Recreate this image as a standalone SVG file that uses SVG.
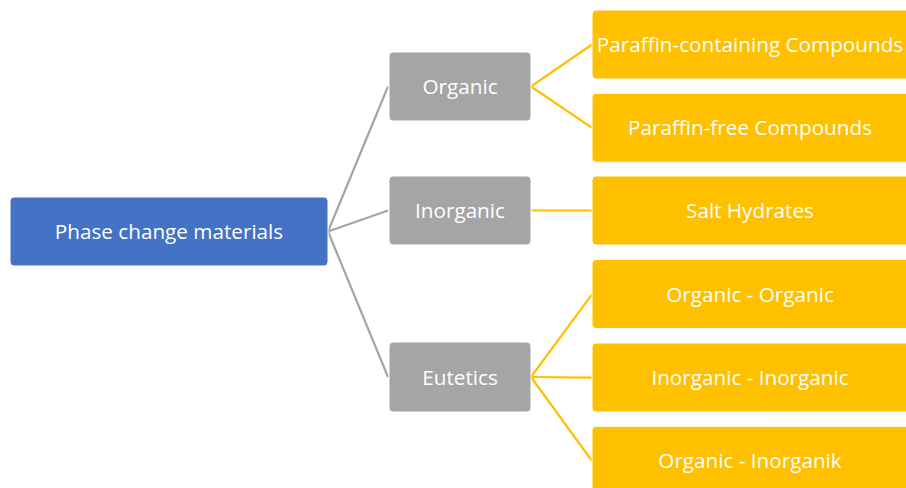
<svg xmlns="http://www.w3.org/2000/svg" width="906" height="488" viewBox="0 0 906 488">
<style>
.n rect{stroke:#ffffff;stroke-width:1}
.root rect{fill:#4472C4}
.mid rect{fill:#A5A5A5}
.leaf rect{fill:#FFC000}
text{font-family:"Open Sans","Liberation Sans",sans-serif;font-size:20.7px;fill:#ffffff;text-anchor:middle;dominant-baseline:central}
.cg line{stroke:#A5A5A5;stroke-width:2.2;fill:none}
.cy line{stroke:#FFC000;stroke-width:2.2;fill:none}
</style>
<rect width="906" height="488" fill="#ffffff"/>
<g id="connectors">
<g class="cg">
<line x1="328" y1="231.5" x2="388" y2="86.5"/>
<line x1="328" y1="231.5" x2="388" y2="210.5"/>
<line x1="328" y1="231.5" x2="388" y2="377"/>
</g>
<g class="cy">
<line x1="531" y1="86.5" x2="592" y2="44.5"/>
<line x1="531" y1="86.5" x2="592" y2="127.8"/>
<line x1="531" y1="210.5" x2="592" y2="210.5"/>
<line x1="531" y1="377" x2="592" y2="294.3"/>
<line x1="531" y1="377" x2="592" y2="377.6"/>
<line x1="531" y1="377" x2="592" y2="461"/>
</g>
</g>
<g id="n-root" class="n root"><rect x="10" y="197" width="318" height="69" rx="4"/><text x="169" y="231">Phase change materials</text></g>
<g id="n-organic" class="n mid"><rect x="389" y="52" width="142" height="69" rx="4"/><text x="460" y="86">Organic</text></g>
<g id="n-inorganic" class="n mid"><rect x="389" y="176" width="142" height="69" rx="4"/><text x="460" y="210">Inorganic</text></g>
<g id="n-eutetics" class="n mid"><rect x="389" y="342" width="142" height="70" rx="4"/><text x="460" y="376.5">Eutetics</text></g>
<g id="n-paraffin-containing" class="n leaf"><rect x="592" y="10" width="318" height="69" rx="4"/><text x="750" y="44">Paraffin-containing Compounds</text></g>
<g id="n-paraffin-free" class="n leaf"><rect x="592" y="93.3" width="318" height="69" rx="4"/><text x="750" y="127.3">Paraffin-free Compounds</text></g>
<g id="n-salt" class="n leaf"><rect x="592" y="176" width="318" height="69" rx="4"/><text x="750" y="210">Salt Hydrates</text></g>
<g id="n-oo" class="n leaf"><rect x="592" y="259.5" width="318" height="69" rx="4"/><text x="750" y="293.5">Organic - Organic</text></g>
<g id="n-ii" class="n leaf"><rect x="592" y="343" width="318" height="69" rx="4"/><text x="750" y="377">Inorganic - Inorganic</text></g>
<g id="n-oi" class="n leaf"><rect x="592" y="426.3" width="318" height="69" rx="4"/><text x="750" y="460.3">Organic - Inorganik</text></g>
</svg>
